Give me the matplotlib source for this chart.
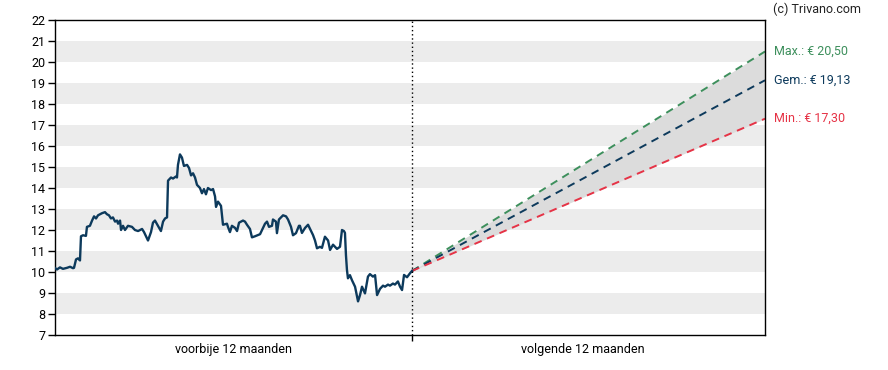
import matplotlib
matplotlib.use("Agg")
import matplotlib.pyplot as plt

# koersverloop voorbije 12 maanden (dag, koers)
past_days = [0, 1.4, 3.5, 5.6, 8.5, 10.6, 12.7, 13.4, 14.8, 16.2, 17.6, 18.3, 19.7, 21.8,
             22.5, 24.6, 26.1, 27.5, 28.9, 30.3, 33.1, 35.2, 36.6, 38.0, 39.4, 40.8, 42.3,
             43.7, 44.4, 45.8, 46.5, 47.9, 49.3, 51.4, 54.2, 56.3, 58.5, 61.3, 62.7, 64.8,
             65.5, 67.6, 69.0, 70.4, 72.5, 74.6, 76.1, 77.5, 78.9, 79.6, 81.7, 83.1, 85.2,
             85.9, 86.6, 88.0, 89.4, 90.8, 93.0, 94.4, 95.8, 97.2, 98.6, 100.0, 102.1,
             103.5, 104.9, 106.3, 107.7, 109.9, 111.3, 112.7, 113.4, 114.8, 116.9, 118.3,
             121.1, 121.8, 123.2, 124.6, 126.8, 128.2, 129.6, 132.4, 133.8, 135.2, 137.3,
             138.7, 140.8, 144.4, 146.5, 147.9, 149.3, 150.7, 152.8, 153.5, 155.6, 156.3,
             157.7, 160.6, 162.7, 164.1, 166.2, 167.6, 169.7, 171.8, 172.5, 173.9, 176.1,
             178.2, 179.6, 181.7, 183.1, 184.5, 186.6, 188.0, 190.1, 192.3, 193.7, 195.8,
             198.6, 200.7, 202.1, 203.5, 204.2, 204.9, 205.6, 206.3, 207.7, 209.2, 211.3,
             213.4, 214.8, 216.2, 218.3, 220.4, 221.8, 223.9, 225.4, 226.8, 228.9, 231.0,
             232.4, 234.5, 235.9, 238.0, 239.4, 241.5, 243.0, 244.4, 245.8, 247.9, 250.0,
             251.4]
past_prices = [10.19, 10.12, 10.22, 10.15, 10.2, 10.25, 10.18, 10.2, 10.6, 10.65, 10.55,
               11.7, 11.75, 11.72, 12.15, 12.2, 12.45, 12.65, 12.55, 12.7, 12.8, 12.85,
               12.75, 12.7, 12.55, 12.6, 12.4, 12.45, 12.3, 12.45, 12.0, 12.2, 12.0, 12.2,
               12.15, 12.0, 11.95, 12.05, 11.9, 11.6, 11.5, 11.9, 12.35, 12.45, 12.2, 11.95,
               12.4, 12.55, 12.6, 14.35, 14.5, 14.45, 14.55, 14.5, 15.1, 15.6, 15.45, 15.05,
               15.1, 14.95, 14.6, 14.7, 14.5, 14.15, 14.0, 13.75, 13.95, 13.7, 14.0, 13.9,
               13.95, 13.6, 13.1, 13.35, 13.15, 12.25, 12.3, 12.15, 11.9, 12.2, 12.1, 11.95,
               12.35, 12.45, 12.4, 12.25, 12.05, 11.65, 11.7, 11.8, 12.1, 12.3, 12.4, 12.15,
               12.2, 12.5, 12.4, 11.85, 12.5, 12.7, 12.65, 12.5, 12.15, 11.75, 11.85, 12.2,
               12.2, 11.86, 12.1, 12.25, 12.05, 11.76, 11.5, 11.13, 11.2, 11.15, 11.68,
               11.5, 11.05, 11.3, 11.1, 11.2, 12.0, 11.95, 11.86, 10.8, 10.1, 9.7, 9.85,
               9.6, 9.3, 8.6, 8.9, 9.3, 8.98, 9.78, 9.9, 9.78, 9.85, 8.9, 9.2, 9.35, 9.3,
               9.4, 9.35, 9.45, 9.4, 9.55, 9.3, 9.14, 9.86, 9.75, 9.94, 10.05]

# verwachting volgende 12 maanden
fc_days = [251.4, 500]
fc_max = [10.05, 20.50]
fc_avg = [10.05, 19.13]
fc_min = [10.05, 17.30]

y_ticks = list(range(7, 23))
x_labels = ["voorbije 12 maanden", "volgende 12 maanden"]
x_label_pos = [126, 372]

navy = "#0d3a5c"
green = "#3d8f5c"
red = "#e63346"

plt.rcParams["font.family"] = ["Roboto", "DejaVu Sans"]
plt.rcParams["font.size"] = 9

fig = plt.figure(figsize=(8.88, 3.70), dpi=100)
ax = fig.add_axes([55 / 888, 35 / 370, 710 / 888, 315 / 370])

for lo in range(8, 22, 2):
    ax.axhspan(lo, lo + 1, color="#ececec", lw=0, zorder=0)

ax.fill_between(fc_days, fc_min, fc_max, color="#dcdcdc", lw=0, zorder=1)
ax.plot(fc_days, fc_max, color=green, lw=1.4, dashes=(4, 3), zorder=2)
ax.plot(fc_days, fc_avg, color=navy, lw=1.4, dashes=(4, 3), zorder=2)
ax.plot(fc_days, fc_min, color=red, lw=1.4, dashes=(4, 3), zorder=2)
ax.plot(past_days, past_prices, color=navy, lw=1.7, zorder=3)

ax.axvline(fc_days[0], color="black", lw=1, ls=(0, (1, 2)), zorder=4)

ax.set_xlim(0, 500)
ax.set_ylim(7, 22)
ax.set_yticks(y_ticks)
ax.tick_params(axis="y", direction="out", length=5, width=1, pad=2, labelsize=9)
ax.set_xticks([fc_days[0]])
ax.set_xticklabels([""])
ax.tick_params(axis="x", which="major", direction="out", length=4, width=1)
ax.set_xticks(x_label_pos, minor=True)
ax.set_xticklabels(x_labels, minor=True)
ax.tick_params(axis="x", which="minor", length=0, pad=6, labelsize=9)
for s in ax.spines.values():
    s.set_linewidth(1)

ax.text(1.012, fc_max[1], "Max.: € 20,50", color=green, va="center", ha="left",
        transform=ax.get_yaxis_transform())
ax.text(1.012, fc_avg[1], "Gem.: € 19,13", color=navy, va="center", ha="left",
        transform=ax.get_yaxis_transform())
ax.text(1.012, fc_min[1], "Min.: € 17,30", color=red, va="center", ha="left",
        transform=ax.get_yaxis_transform())
fig.text(773 / 888, 1 - 9 / 370, "(c) Trivano.com", color="#222222", va="center", ha="left")

fig.savefig("out.png", dpi=100)
